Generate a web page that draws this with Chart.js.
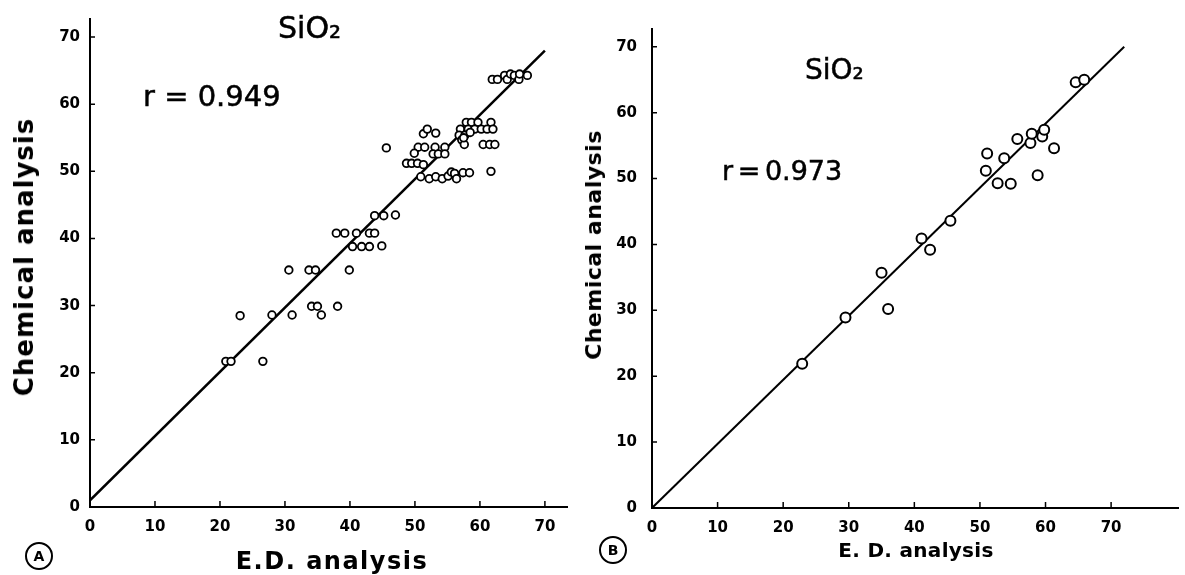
<!DOCTYPE html>
<html>
<head>
<meta charset="utf-8">
<script src="https://cdn.jsdelivr.net/npm/chart.js@4/dist/chart.umd.min.js"></script>
<style>
body { margin:0; background:#fff; width:1185px; height:575px; position:relative; overflow:hidden; font-family:"DejaVu Sans",sans-serif; color:#000; }
canvas { position:absolute; top:0; }
.txt { position:absolute; white-space:nowrap; line-height:1; -webkit-text-stroke:0.5px #000; }
.vt { position:absolute; white-space:nowrap; line-height:1; font-weight:bold; transform:translate(-50%,-50%) rotate(-90deg); }
.ht { position:absolute; white-space:nowrap; line-height:1; font-weight:bold; transform:translateX(-50%); }
.circ { position:absolute; width:24px; height:24px; border:2px solid #000; border-radius:50%; font:bold 14px "DejaVu Sans"; text-align:center; line-height:24px; transform:translate(-50%,-50%); }
</style>
</head>
<body>
<canvas id="chartA" width="590" height="575" style="left:0"></canvas>
<canvas id="chartB" width="605" height="575" style="left:580px"></canvas>

<div class="txt" style="left:278px;top:13px;font-size:30px">SiO₂</div>
<div class="txt" style="left:143px;top:82px;font-size:29px">r = 0.949</div>
<div class="txt" style="left:805px;top:56px;font-size:28px">SiO₂</div>
<div class="txt" style="left:722px;top:157px;font-size:27px;word-spacing:-4px">r = 0.973</div>

<div class="vt" style="left:24px;top:257px;font-size:26px;letter-spacing:1px">Chemical analysis</div>
<div class="ht" style="left:332px;top:549px;font-size:24px;letter-spacing:1.5px">E.D. analysis</div>
<div class="vt" style="left:594px;top:245px;font-size:22px;letter-spacing:0.5px">Chemical analysis</div>
<div class="ht" style="left:916px;top:540px;font-size:20px;letter-spacing:0.3px">E. D. analysis</div>

<div class="circ" style="left:39px;top:556px">A</div>
<div class="circ" style="left:613px;top:550px">B</div>

<script>
const xTicks = [0, 10, 20, 30, 40, 50, 60, 70];

// panel A: E.D. analysis vs chemical analysis
const edA = [20.9, 21.7, 26.6, 23.1, 28.0, 31.1, 34.1, 35.0, 35.6, 38.1,
  30.6, 33.7, 34.7, 39.9, 37.9, 39.2, 41.0, 43.0, 43.8, 40.4, 41.8, 43.0, 44.9,
  43.8, 45.2, 47.0, 45.6,
  51.3, 51.9, 53.2, 50.5, 51.5, 53.1, 54.6, 49.9, 52.8, 53.6, 54.6,
  48.7, 49.5, 50.4, 51.3, 50.9, 52.2, 53.2, 54.2, 55.1, 55.6, 56.1, 56.4, 57.4, 58.4, 61.7,
  57.9, 58.7, 59.7, 61.7, 57.0, 58.2, 59.2, 60.2, 61.1, 62.0, 56.8, 57.7, 57.2, 57.6,
  60.5, 61.5, 62.3, 58.5, 57.5,
  61.9, 62.7, 63.8, 64.2, 64.7, 65.3, 66.0, 66.1, 67.3];
const chemA = [21.7, 21.7, 21.7, 28.5, 28.6, 28.6, 29.9, 29.9, 28.6, 29.9,
  35.3, 35.3, 35.3, 35.3, 40.8, 40.8, 40.8, 40.8, 40.8, 38.8, 38.8, 38.8, 38.9,
  43.4, 43.4, 43.5, 53.5,
  55.6, 56.3, 55.7, 53.6, 53.6, 53.6, 53.6, 52.7, 52.6, 52.6, 52.6,
  51.2, 51.2, 51.2, 51.0, 49.2, 48.9, 49.2, 48.9, 49.3, 49.9, 49.7, 48.9, 49.8, 49.8, 50.0,
  57.3, 57.3, 57.3, 57.3, 56.3, 56.3, 56.3, 56.3, 56.3, 56.3, 55.4, 55.4, 54.7, 54.0,
  54.0, 54.0, 54.0, 55.8, 55.0,
  63.7, 63.7, 64.3, 63.7, 64.5, 64.3, 63.7, 64.5, 64.3];
const fitA = [[0, 1], [70, 68]];

// panel B
const edB = [22.9, 29.5, 35.0, 36.0, 41.1, 42.4, 45.5, 50.9, 51.1, 52.7, 53.7, 54.7,
  55.7, 57.7, 57.9, 58.8, 59.5, 59.8, 61.3, 64.6, 65.9];
const chemB = [21.9, 28.9, 35.7, 30.2, 40.9, 39.2, 43.6, 51.2, 53.8, 49.3, 53.1, 49.2,
  56.0, 55.4, 56.8, 50.5, 56.4, 57.4, 54.6, 64.6, 65.0];
const fitB = [[0, 0], [72, 70]];

const toPts = (xs, ys) => xs.map((x, i) => ({ x: x, y: ys[i] }));
const fitPts = f => f.map(p => ({ x: p[0], y: p[1] }));

// tick marks drawn inward from the axes
const innerTicks = {
    id: 'innerTicks',
    afterDraw(chart) {
        const { ctx, chartArea, scales } = chart;
        ctx.save();
        ctx.strokeStyle = '#000';
        ctx.lineWidth = 1.5;
        ctx.beginPath();
        scales.x.ticks.forEach(t => {
            if (t.value === 0) return;
            const px = scales.x.getPixelForValue(t.value);
            ctx.moveTo(px, chartArea.bottom);
            ctx.lineTo(px, chartArea.bottom - 6);
        });
        scales.y.ticks.forEach(t => {
            if (t.value === 0) return;
            const py = scales.y.getPixelForValue(t.value);
            ctx.moveTo(chartArea.left, py);
            ctx.lineTo(chartArea.left + 5, py);
        });
        ctx.stroke();
        ctx.restore();
    }
};

function makePanel(id, pts, fit, o) {
    new Chart(document.getElementById(id), {
        type: 'scatter',
        data: {
            datasets: [{
                data: pts,
                pointRadius: o.r,
                pointBorderWidth: o.bw,
                pointBackgroundColor: '#fff',
                pointBorderColor: '#000'
            }, {
                data: fit,
                showLine: true,
                pointRadius: 0,
                borderColor: '#000',
                borderWidth: o.lw
            }]
        },
        options: {
            responsive: false,
            animation: false,
            layout: { padding: { top: o.top, right: o.right, left: 0, bottom: 0 } },
            plugins: { legend: { display: false }, tooltip: { enabled: false } },
            scales: {
                x: {
                    min: 0, max: o.xmax,
                    afterFit: s => { s.height = o.xh; },
                    afterBuildTicks: s => { s.ticks = xTicks.map(v => ({ value: v })); },
                    grid: { display: false, drawTicks: false },
                    border: { display: true, color: '#000', width: 2 },
                    ticks: { color: '#000', padding: 11, font: { family: 'DejaVu Sans', size: 15, weight: 'bold' } }
                },
                y: {
                    min: 0, max: o.ymax,
                    afterFit: s => { s.width = o.yw; },
                    afterBuildTicks: s => { s.ticks = xTicks.map(v => ({ value: v })); },
                    grid: { display: false, drawTicks: false },
                    border: { display: true, color: '#000', width: 2 },
                    ticks: { color: '#000', padding: o.ypad, font: { family: 'DejaVu Sans', size: 15, weight: 'bold' } }
                }
            }
        },
        plugins: [innerTicks]
    });
}

makePanel('chartA', toPts(edA, chemA), fitPts(fitA),
    { r: 3.8, bw: 1.8, lw: 2.5, top: 15, right: 23, xmax: 73.4, ymax: 72.7, xh: 68, yw: 90, ypad: 10 });
makePanel('chartB', toPts(edB, chemB), fitPts(fitB),
    { r: 5, bw: 2, lw: 2, top: 29, right: 0, xmax: 80.2, ymax: 72.7, xh: 67, yw: 72, ypad: 15 });
</script>
</body>
</html>
